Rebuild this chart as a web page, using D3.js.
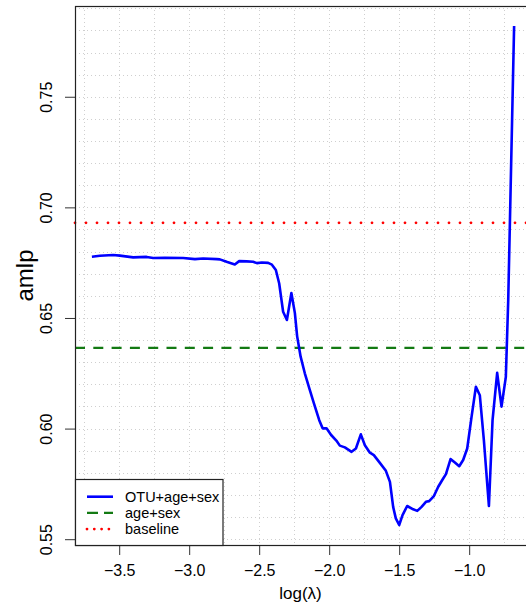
<!DOCTYPE html>
<html>
<head>
<meta charset="utf-8">
<script src="https://cdn.jsdelivr.net/npm/d3@7"></script>
<style>
  body { margin: 0; background: #fff; }
  text { font-family: "Liberation Sans", Arial, Helvetica, sans-serif; fill: #000; }
</style>
</head>
<body>
<svg id="chart" width="526" height="608"></svg>
<script>
// Cross-validated AMLP along the lasso path, log(lambda) on the x axis
const logLambda = [
  -3.695, -3.638, -3.543, -3.495, -3.400, -3.304, -3.257, -3.174, -3.043, -2.959,
  -2.900, -2.804, -2.781, -2.733, -2.674, -2.643, -2.590, -2.543, -2.516, -2.481,
  -2.436, -2.409, -2.381, -2.357, -2.329, -2.302, -2.270, -2.245, -2.229, -2.204,
  -2.174, -2.138, -2.109, -2.071, -2.047, -2.019, -1.986, -1.949, -1.924, -1.888,
  -1.840, -1.809, -1.774, -1.745, -1.709, -1.681, -1.638, -1.595, -1.566, -1.543,
  -1.524, -1.500, -1.476, -1.443, -1.400, -1.371, -1.340, -1.309, -1.286, -1.252,
  -1.221, -1.190, -1.166, -1.133, -1.102, -1.071, -1.043, -1.014, -0.983, -0.952,
  -0.924, -0.895, -0.859, -0.833, -0.800, -0.769, -0.738, -0.721, -0.679
];
const amlp = [
  0.6777, 0.6781, 0.6785, 0.6782, 0.6774, 0.6776, 0.6771, 0.6772, 0.6771, 0.6766,
  0.6769, 0.6766, 0.6765, 0.6754, 0.6742, 0.6757, 0.6756, 0.6754, 0.6748, 0.6751,
  0.6749, 0.6741, 0.6717, 0.6656, 0.6528, 0.6491, 0.6613, 0.6522, 0.6418, 0.6325,
  0.6250, 0.6174, 0.6114, 0.6038, 0.6001, 0.6001, 0.5971, 0.5946, 0.5923, 0.5915,
  0.5895, 0.5910, 0.5974, 0.5925, 0.5891, 0.5880, 0.5845, 0.5809, 0.5759, 0.5646,
  0.5594, 0.5564, 0.5609, 0.5650, 0.5635, 0.5628, 0.5646, 0.5669, 0.5672, 0.5695,
  0.5737, 0.5770, 0.5794, 0.5862, 0.5847, 0.5830, 0.5858, 0.5910, 0.6053, 0.6189,
  0.6151, 0.5948, 0.5650, 0.6038, 0.6252, 0.6099, 0.6234, 0.6581, 0.7820
];
const ageSexAmlp = 0.6365;
const baselineAmlp = 0.6930;

const xTicks = [-3.5, -3.0, -2.5, -2.0, -1.5, -1.0];
const yTicks = [0.55, 0.60, 0.65, 0.70, 0.75];
const xGrid = [-3.75, -3.5, -3.25, -3.0, -2.75, -2.5, -2.25, -2.0, -1.75, -1.5, -1.25, -1.0, -0.75];
const yGrid = d3.range(55, 80).map(v => v / 100);

const legendLabels = ["OTU+age+sex", "age+sex", "baseline"];

const svg = d3.select("#chart");
const plot = { left: 75, right: 531, top: 6, bottom: 545 };

// R-style axis ranges: data extent padded by 4% on each side
function padded(ext) {
  const d = (ext[1] - ext[0]) * 0.04;
  return [ext[0] - d, ext[1] + d];
}
const x = d3.scaleLinear().domain(padded(d3.extent(logLambda))).range([plot.left, plot.right]);
const y = d3.scaleLinear()
  .domain(padded(d3.extent(amlp.concat([ageSexAmlp, baselineAmlp]))))
  .range([plot.bottom, plot.top]);

const fmtX = d3.format(".1f");
const fmtY = d3.format(".2f");

// dotted background grid
const grid = svg.append("g").attr("stroke", "#cfcfcf").attr("stroke-width", 1)
  .attr("stroke-dasharray", "1,3");
grid.selectAll("line.v").data(xGrid).join("line")
  .attr("class", "v")
  .attr("x1", d => Math.round(x(d)) + 0.5).attr("x2", d => Math.round(x(d)) + 0.5)
  .attr("y1", plot.top).attr("y2", plot.bottom);
grid.selectAll("line.h").data(yGrid).join("line")
  .attr("class", "h")
  .attr("y1", d => Math.round(y(d)) + 0.5).attr("y2", d => Math.round(y(d)) + 0.5)
  .attr("x1", plot.left).attr("x2", plot.right);

// reference lines
svg.append("line")
  .attr("x1", plot.left).attr("x2", plot.right)
  .attr("y1", y(baselineAmlp)).attr("y2", y(baselineAmlp))
  .attr("stroke", "#ff0000").attr("stroke-width", 2.8)
  .attr("stroke-linecap", "round").attr("stroke-dasharray", "0,11");
svg.append("line")
  .attr("x1", plot.left).attr("x2", plot.right)
  .attr("y1", y(ageSexAmlp)).attr("y2", y(ageSexAmlp))
  .attr("stroke", "#137a13").attr("stroke-width", 2.4)
  .attr("stroke-dasharray", "10,8.3");

// AMLP curve
const line = d3.line().x((d, i) => x(logLambda[i])).y(d => y(d));
svg.append("path")
  .datum(amlp)
  .attr("d", line)
  .attr("fill", "none")
  .attr("stroke", "#0000ff")
  .attr("stroke-width", 2.6)
  .attr("stroke-linejoin", "round");

// axes
const xAxis = d3.axisBottom(x).tickValues(xTicks).tickFormat(fmtX).tickSize(10).tickPadding(6);
const gx = svg.append("g").attr("transform", `translate(0,${plot.bottom})`).call(xAxis);
gx.select(".domain").remove();
gx.selectAll(".tick line").attr("stroke", "#333");
gx.selectAll(".tick text").attr("font-size", 16).attr("fill", "#000").attr("dy", "0.95em");

const yAxis = d3.axisLeft(y).tickValues(yTicks).tickFormat(fmtY).tickSize(10).tickPadding(0);
const gy = svg.append("g").attr("transform", `translate(${plot.left},0)`).call(yAxis);
gy.select(".domain").remove();
gy.selectAll(".tick line").attr("stroke", "#333");
gy.selectAll(".tick text")
  .attr("font-size", 16).attr("fill", "#000")
  .attr("x", 0).attr("dy", 0)
  .attr("text-anchor", "middle")
  .attr("transform", "translate(-23.5,0) rotate(-90)");

// plot frame
svg.append("rect")
  .attr("x", plot.left + 0.5).attr("y", plot.top + 0.5)
  .attr("width", plot.right - plot.left).attr("height", plot.bottom - plot.top)
  .attr("fill", "none").attr("stroke", "#222").attr("stroke-width", 1.2);

// axis titles
svg.append("text")
  .attr("x", (plot.left + 526) / 2).attr("y", 599)
  .attr("text-anchor", "middle").attr("font-size", 17)
  .text("log(λ)");
svg.append("text")
  .attr("transform", `translate(33,${(plot.top + plot.bottom) / 2}) rotate(-90)`)
  .attr("text-anchor", "middle").attr("font-size", 24)
  .text("amlp");

// legend
const legend = svg.append("g");
legend.append("rect")
  .attr("x", plot.left + 0.5).attr("y", 479.5)
  .attr("width", 147.5).attr("height", plot.bottom - 479)
  .attr("fill", "#fff").attr("stroke", "#222").attr("stroke-width", 1.2);
const legendStyles = [
  { stroke: "#0000ff", width: 2.6, dash: null, cap: "butt" },
  { stroke: "#137a13", width: 2.4, dash: "11,6", cap: "butt" },
  { stroke: "#ff0000", width: 2.8, dash: "0,7.3", cap: "round" }
];
const rows = legend.selectAll("g.row").data(legendLabels).join("g")
  .attr("class", "row")
  .attr("transform", (d, i) => `translate(0,${496.7 + i * 16.2})`);
rows.append("line")
  .attr("x1", 87).attr("x2", 113).attr("y1", 0).attr("y2", 0)
  .attr("stroke", (d, i) => legendStyles[i].stroke)
  .attr("stroke-width", (d, i) => legendStyles[i].width)
  .attr("stroke-dasharray", (d, i) => legendStyles[i].dash)
  .attr("stroke-linecap", (d, i) => legendStyles[i].cap);
rows.append("text")
  .attr("x", 125).attr("y", 5)
  .attr("font-size", 14.5)
  .text(d => d);
</script>
</body>
</html>
